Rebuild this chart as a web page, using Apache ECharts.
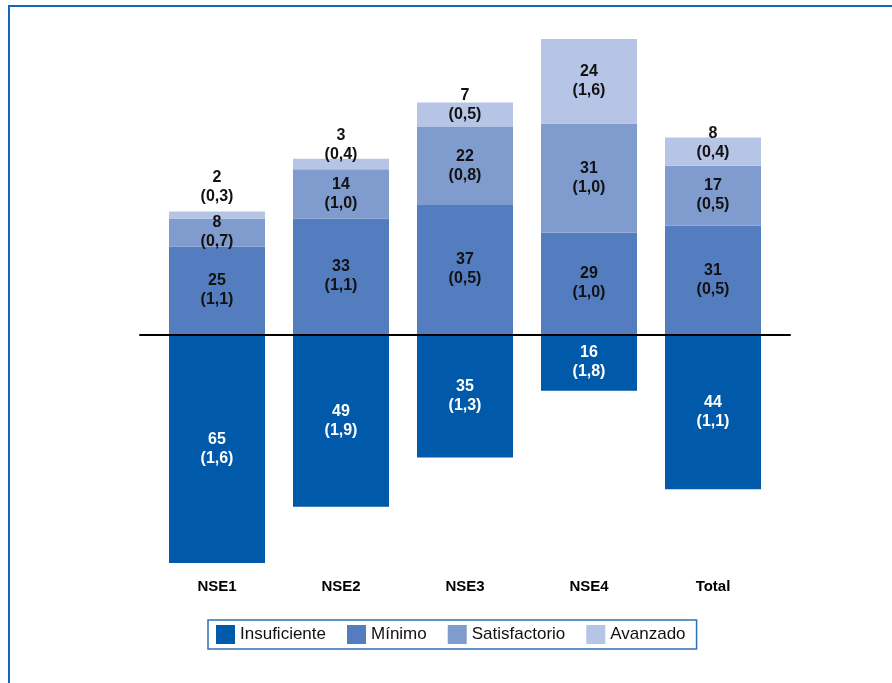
<!DOCTYPE html>
<html>
<head>
<meta charset="utf-8">
<script src="https://cdn.jsdelivr.net/npm/echarts@6/dist/echarts.min.js"></script>
<style>
    html, body { margin: 0; padding: 0; background: #fff; }
    #chart { width: 892px; height: 683px; }
    .frame {
        position: absolute; left: 8px; top: 5px; right: -4px; bottom: -4px;
        border-top: 2px solid #1565c0; border-left: 2px solid #1565c0;
        pointer-events: none;
    }
</style>
</head>
<body>
<div id="chart"></div>
<div class="frame"></div>
<script>
var categories = ['NSE1', 'NSE2', 'NSE3', 'NSE4', 'Total'];

var insuficiente = [65, 49, 35, 16, 44];
var insuficienteSE = [1.6, 1.9, 1.3, 1.8, 1.1];
var minimo = [25, 33, 37, 29, 31];
var minimoSE = [1.1, 1.1, 0.5, 1.0, 0.5];
var satisfactorio = [8, 14, 22, 31, 17];
var satisfactorioSE = [0.7, 1.0, 0.8, 1.0, 0.5];
var avanzado = [2, 3, 7, 24, 8];
var avanzadoSE = [0.3, 0.4, 0.5, 1.6, 0.4];

var FONT = "'Liberation Sans', Arial, sans-serif";

// label shift for the Avanzado segments (small ones sit above the bar)
var avzShift = [-28, -19, -10, 0, -9];

function fmt(v) { return v.toFixed(1).replace('.', ','); }

function labelFor(se, color) {
    return {
        show: true,
        position: 'inside',
        color: color,
        fontFamily: FONT,
        fontWeight: 'bold',
        fontSize: 16,
        lineHeight: 19,
        formatter: function (p) {
            return Math.abs(p.value) + '\n(' + fmt(se[p.dataIndex]) + ')';
        }
    };
}

var chart = echarts.init(document.getElementById('chart'));

var option = {
    animation: false,
    color: ['#005aa9', '#547dbf', '#809cce', '#b6c5e6'],
    grid: [
        { left: 155, width: 620, top: 18, height: 545 },
        { left: 140, width: 650, top: 18, height: 545 }
    ],
    legend: {
        left: 208,
        top: 620,
        padding: [5, 11, 5, 8],
        borderColor: '#2f6fb8',
        borderWidth: 1.5,
        itemGap: 21,
        itemWidth: 19,
        itemHeight: 19,
        icon: 'rect',
        textStyle: { fontFamily: FONT, fontSize: 17, color: '#111' },
        data: ['Insuficiente', 'Mínimo', 'Satisfactorio', 'Avanzado']
    },
    xAxis: [{
        type: 'category',
        gridIndex: 0,
        data: categories,
        position: 'bottom',
        axisLine: { show: false, onZero: false },
        axisTick: { show: false },
        axisLabel: {
            margin: 16,
            color: '#000',
            fontFamily: FONT,
            fontWeight: 'bold',
            fontSize: 15
        }
    }, {
        type: 'category',
        gridIndex: 1,
        data: [''],
        z: 10,
        axisLine: { show: true, onZero: true, lineStyle: { color: '#000', width: 2 } },
        axisTick: { show: false },
        axisLabel: { show: false }
    }],
    yAxis: [{
        type: 'value',
        gridIndex: 0,
        min: -65,
        max: 90,
        show: false
    }, {
        type: 'value',
        gridIndex: 1,
        min: -65,
        max: 90,
        show: false
    }],
    series: [{
        name: 'Insuficiente',
        type: 'bar',
        stack: 'nse',
        barWidth: 96,
        data: insuficiente.map(function (v) { return -v; }),
        label: labelFor(insuficienteSE, '#fff')
    }, {
        name: 'Mínimo',
        type: 'bar',
        stack: 'nse',
        barWidth: 96,
        data: minimo,
        label: labelFor(minimoSE, '#111')
    }, {
        name: 'Satisfactorio',
        type: 'bar',
        stack: 'nse',
        barWidth: 96,
        data: satisfactorio,
        label: labelFor(satisfactorioSE, '#111')
    }, {
        name: 'Avanzado',
        type: 'bar',
        stack: 'nse',
        barWidth: 96,
        data: avanzado.map(function (v, i) {
            return { value: v, label: { offset: [0, avzShift[i]] } };
        }),
        label: labelFor(avanzadoSE, '#111')
    }]
};

chart.setOption(option);
</script>
</body>
</html>
